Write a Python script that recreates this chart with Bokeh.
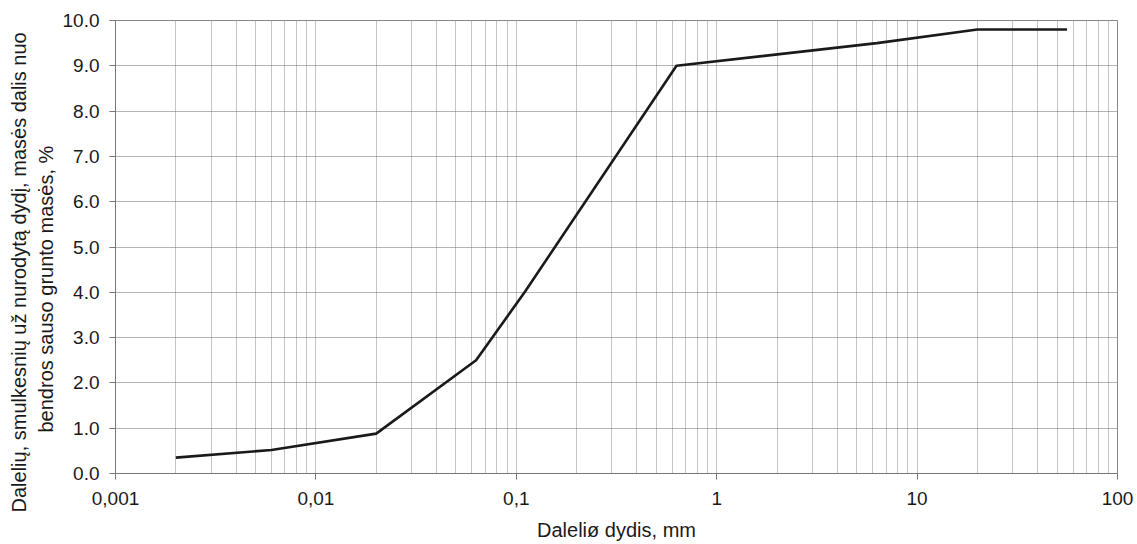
from bokeh.plotting import figure
from bokeh.models import Range1d, FixedTicker, CustomJSTickFormatter, NumeralTickFormatter, Title
from bokeh.embed import file_html
from bokeh.resources import INLINE

# data
particle_size_mm = [0.002, 0.006, 0.02, 0.063, 0.11, 0.63, 6.3, 20, 56]
finer_percent = [0.35, 0.52, 0.88, 2.5, 4.0, 9.0, 9.5, 9.8, 9.8]

x_major = [0.001, 0.01, 0.1, 1, 10, 100]
y_major = [0, 1, 2, 3, 4, 5, 6, 7, 8, 9, 10]

x_label = "Daleliø dydis, mm"
y_label_lines = ["Dalelių, smulkesnių už nurodytą dydį, masės dalis nuo",
                 "bendros sauso grunto masės, %"]

x_minor = [d * m for d in x_major[:-1] for m in range(2, 10)]

FONT = "Liberation Sans"
TXT = "#1a1a1a"

p = figure(width=1137, height=544, x_axis_type="log",
           x_range=Range1d(0.001, 100), y_range=Range1d(0, 10),
           output_backend="svg", toolbar_location=None,
           min_border_left=115, min_border_right=20,
           min_border_top=20, min_border_bottom=71)

p.line(particle_size_mm, finer_percent, line_color="#1a1a1a", line_width=2.6)

p.xaxis.ticker = FixedTicker(ticks=x_major, minor_ticks=x_minor)
p.yaxis.ticker = FixedTicker(ticks=y_major)
p.xaxis.formatter = CustomJSTickFormatter(code="return String(tick).replace('.', ',');")
p.yaxis.formatter = NumeralTickFormatter(format="0.0")

for ax in (p.xaxis, p.yaxis):
    ax.axis_line_color = "#777777"
    ax.major_tick_line_color = "#777777"
    ax.major_tick_out = 6
    ax.major_tick_in = 0
    ax.minor_tick_line_color = None
    ax.major_label_text_font = FONT
    ax.major_label_text_font_size = "19px"
    ax.major_label_text_color = TXT
    ax.axis_label_text_font = FONT
    ax.axis_label_text_font_size = "20px"
    ax.axis_label_text_font_style = "normal"
    ax.axis_label_text_color = TXT

p.xaxis.major_label_standoff = 12
p.yaxis.major_label_standoff = 10
p.xaxis.axis_label = x_label
p.xaxis.axis_label_standoff = 11

# two-line rotated y label as side titles (inner line first)
for txt, off, so in [(y_label_lines[1], 41, 6), (y_label_lines[0], -39, 0)]:
    p.add_layout(Title(text=txt, align="left", offset=off, standoff=so,
                       text_font=FONT, text_font_size="20px", text_font_style="normal",
                       text_color=TXT), "left")

p.xgrid.grid_line_color = "#8a8a8a"
p.xgrid.grid_line_dash = "1 1"
p.xgrid.minor_grid_line_color = "#8a8a8a"
p.xgrid.minor_grid_line_dash = "1 1"
p.ygrid.grid_line_color = "#6a6a6a"
p.ygrid.grid_line_dash = "1 1"

p.outline_line_color = "#888888"
p.background_fill_color = "white"
p.border_fill_color = "white"

open("out.html", "w").write(file_html(p, INLINE))
